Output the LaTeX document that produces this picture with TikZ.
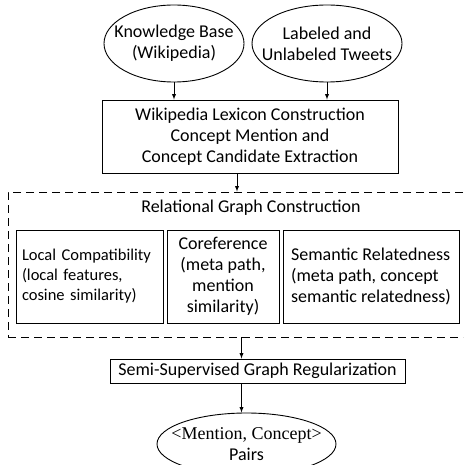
\documentclass[tikz,border=0pt]{standalone}
\usepackage{fontspec}
\setmainfont{Carlito}
\newfontfamily\timesfont{Liberation Serif}
\usetikzlibrary{shapes.geometric}

\begin{document}
\begin{tikzpicture}[x=1pt,y=-1pt,font=\fontsize{18}{21}\selectfont,line width=0.9pt]
	\useasboundingbox (0,0) rectangle (463,465);
	\clip (0,0) rectangle (463,465);

	\node[shape=ellipse,draw=black,minimum width=140pt,minimum height=77pt] (kb) at (174, 43.5) {};
	\node[align=center] (kbtext) at (kb) {Knowledge Base\\(Wikipedia)};
	\node[shape=ellipse,draw=black,minimum width=150pt,minimum height=77pt] (tw) at (327, 43.5) {};
	\node[align=center] (twtext) at (tw) {Labeled and\\Unlabeled Tweets};
	\node[shape=rectangle,draw=black,minimum width=296pt,minimum height=73pt,inner sep=0pt,align=center] (lex) at (250, 136.5) {Wikipedia Lexicon Construction\\Concept Mention and\\Concept Candidate Extraction};

	\node[shape=rectangle,draw=black,dash pattern=on 8pt off 5pt,minimum width=467pt,minimum height=145pt] (rgc) at (241.5, 264.5) {};
	\node (title) at (251, 208) {Relational Graph Construction};
	\node[shape=rectangle,draw=black,minimum width=147pt,minimum height=93pt,inner xsep=6pt,inner ysep=0pt,text width=135pt,align=left,font=\fontsize{16.5}{20}\selectfont] (lc) at (89.5, 276.5) {Local Compatibility\\(local features,\\cosine similarity)};
	\node[shape=rectangle,draw=black,minimum width=112pt,minimum height=93pt,inner sep=0pt,align=center] (co) at (223, 276.5) {Coreference\\(meta path,\\mention\\similarity)};
	\node[shape=rectangle,draw=black,minimum width=176pt,minimum height=93pt,inner sep=0pt,align=left] (sr) at (371, 276.5) {Semantic Relatedness\\(meta path, concept\\semantic relatedness)};

	\node[shape=rectangle,draw=black,minimum width=295pt,minimum height=24pt,inner sep=0pt] (sg) at (257.5, 371) {Semi-Supervised Graph Regularization};
	\node[shape=ellipse,draw=black,minimum width=179pt,minimum height=62pt] (pairs) at (246.5, 444) {};
	\node[align=center] (pairstext) at (pairs) {{\timesfont <Mention, Concept>}\\Pairs};

	\path[-latex] (kb) edge (kb |- lex.north);
	\path[-latex] (tw) edge (tw |- lex.north);
	\path[-latex] ([xshift=-13pt]lex.south) edge ([xshift=-13pt]lex.south |- rgc.north);
	\path[-latex] (rgc.south) edge (rgc.south |- sg.north);
	\path[-latex] (sg.south -| rgc.south) edge (rgc.south |- pairs.north);

\end{tikzpicture}
\end{document}
